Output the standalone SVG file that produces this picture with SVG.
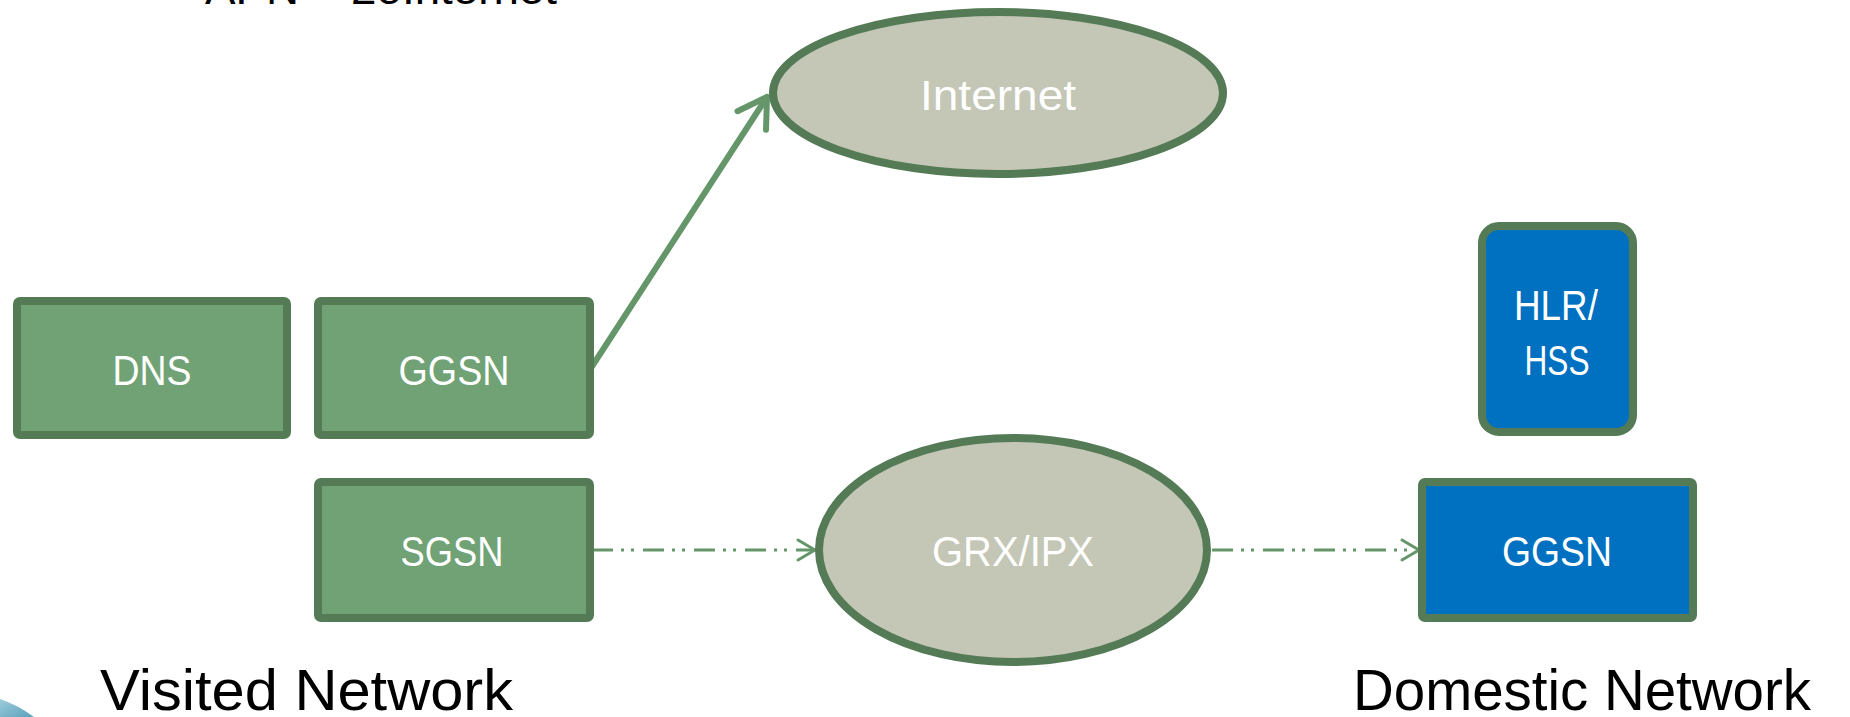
<svg xmlns="http://www.w3.org/2000/svg" width="1850" height="717" viewBox="0 0 1850 717">
<defs>
<style>
.box{fill:#70A276;stroke:#547A56;stroke-width:8}
.blue{fill:#0070C0;stroke:#547A56;stroke-width:8}
.ell{fill:#C4C6B6;stroke:#547A56;stroke-width:8}
.lbl{font-family:"Liberation Sans",Arial,sans-serif;font-size:42px;fill:#FFFFFF;text-anchor:middle}
.cap{font-family:"Liberation Sans",Arial,sans-serif;font-size:58px;fill:#000000}
.solid{fill:none;stroke:#65966A;stroke-width:6;stroke-linecap:round}
.dash{fill:none;stroke:#65966A;stroke-width:3;stroke-dasharray:21 8 3 7 3 9}
</style>
<linearGradient id="corner" x1="0" y1="0" x2="1" y2="1">
<stop offset="0" stop-color="#8CC3D6"/>
<stop offset="1" stop-color="#3E90AE"/>
</linearGradient>
<marker id="ahSolid" markerUnits="userSpaceOnUse" markerWidth="60" markerHeight="60" refX="0" refY="0" orient="auto" overflow="visible">
<path d="M-28,-17 L0,0 L-28,17" fill="none" stroke="#65966A" stroke-width="6" stroke-linecap="round" stroke-linejoin="round"/>
</marker>
<marker id="ahDash" markerUnits="userSpaceOnUse" markerWidth="40" markerHeight="40" refX="0" refY="0" orient="auto" overflow="visible">
<path d="M-17,-10 L0,0 L-17,10" fill="none" stroke="#65966A" stroke-width="3" stroke-linecap="round" stroke-linejoin="round"/>
</marker>
</defs>
<rect width="1850" height="717" fill="#FFFFFF"/>
<path d="M0,699 Q18,705 34,717 L0,717 Z" fill="url(#corner)" opacity="0.85"/>
<text x="205" y="4" font-family="Liberation Sans, Arial, sans-serif" font-size="44" fill="#000000" textLength="352" lengthAdjust="spacingAndGlyphs">APN = 2oInternet</text>
<g id="connectors">
<line class="solid" x1="591" y1="368" x2="767" y2="97" marker-end="url(#ahSolid)"/>
<line class="dash" x1="592" y1="550" x2="815" y2="550" marker-end="url(#ahDash)"/>
<line class="dash" x1="1212" y1="550" x2="1419" y2="550" marker-end="url(#ahDash)"/>
</g>
<g id="internet">
<ellipse class="ell" cx="998" cy="93" rx="225" ry="81"/>
<text class="lbl" x="998" y="110" textLength="156" lengthAdjust="spacingAndGlyphs">Internet</text>
</g>
<g id="dns">
<rect class="box" x="17" y="301" width="270" height="134" rx="3"/>
<text class="lbl" x="152" y="385" textLength="79" lengthAdjust="spacingAndGlyphs">DNS</text>
</g>
<g id="ggsn-visited">
<rect class="box" x="318" y="301" width="272" height="134" rx="3"/>
<text class="lbl" x="454" y="385" textLength="111" lengthAdjust="spacingAndGlyphs">GGSN</text>
</g>
<g id="sgsn">
<rect class="box" x="318" y="482" width="272" height="136" rx="3"/>
<text class="lbl" x="452" y="566" textLength="103" lengthAdjust="spacingAndGlyphs">SGSN</text>
</g>
<g id="grx">
<ellipse class="ell" cx="1013" cy="550" rx="194" ry="112"/>
<text class="lbl" x="1013" y="566" textLength="162" lengthAdjust="spacingAndGlyphs">GRX/IPX</text>
</g>
<g id="hlr">
<rect class="blue" x="1482" y="226" width="151" height="206" rx="17"/>
<text class="lbl" x="1556" y="320" textLength="84" lengthAdjust="spacingAndGlyphs">HLR/</text>
<text class="lbl" x="1557" y="375" textLength="65" lengthAdjust="spacingAndGlyphs">HSS</text>
</g>
<g id="ggsn-domestic">
<rect class="blue" x="1422" y="482" width="271" height="136" rx="3"/>
<text class="lbl" x="1557" y="566" textLength="110" lengthAdjust="spacingAndGlyphs">GGSN</text>
</g>
<g id="captions">
<text class="cap" x="100" y="710" textLength="413" lengthAdjust="spacingAndGlyphs">Visited Network</text>
<text class="cap" x="1353" y="710" textLength="458" lengthAdjust="spacingAndGlyphs">Domestic Network</text>
</g>
</svg>
